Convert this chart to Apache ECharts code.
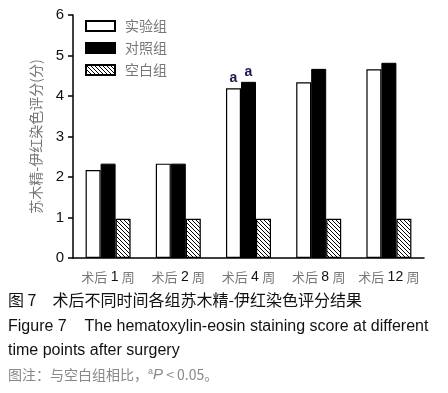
<!DOCTYPE html>
<html>
<head>
<meta charset="utf-8">
<script src="https://cdn.jsdelivr.net/npm/echarts@6/dist/echarts.min.js"></script>
<style>
  html, body { margin: 0; padding: 0; background: #fff; }
  #chart { width: 448px; height: 393px; }
</style>
</head>
<body>
<div id="chart"></div>
<script>
// data
const categories = ['术后 1 周', '术后 2 周', '术后 4 周', '术后 8 周', '术后 12 周'];
const experimental = [2.17, 2.33, 4.19, 4.34, 4.66];
const control = [2.33, 2.33, 4.35, 4.67, 4.82];
const blank = [0.97, 0.97, 0.97, 0.97, 0.97];
const sigIndex = [2]; // groups marked with "a"
const yTicks = [0, 1, 2, 3, 4, 5, 6];

const cjkFont = '"Noto Sans CJK SC", sans-serif';
const latinFont = '"Liberation Sans", sans-serif';

// diagonal hatch pattern for the blank group
const hatch = document.createElement('canvas');
hatch.width = 4;
hatch.height = 4;
const hc = hatch.getContext('2d');
hc.fillStyle = '#fff';
hc.fillRect(0, 0, 4, 4);
hc.strokeStyle = '#000';
hc.lineWidth = 1;
hc.beginPath();
hc.moveTo(-1, -1); hc.lineTo(5, 5);
hc.moveTo(-1, 3); hc.lineTo(1, 5);
hc.moveTo(3, -1); hc.lineTo(5, 1);
hc.stroke();

const withMarks = (arr) => arr.map((v, i) => sigIndex.includes(i)
  ? { value: v, label: { show: true, position: 'top', formatter: 'a', color: '#1a1a4a', fontSize: 14, fontWeight: 'bold', distance: 3, fontFamily: latinFont } }
  : v);

const chart = echarts.init(document.getElementById('chart'));

chart.setOption({
  animation: false,
  backgroundColor: '#fff',
  grid: { left: 73, right: 24, top: 15, bottom: 135 },
  legend: {
    left: 80,
    top: 14,
    orient: 'vertical',
    icon: 'rect',
    itemWidth: 29,
    itemHeight: 10,
    itemGap: 8,
    textStyle: { color: '#777', fontSize: 14, padding: [0, 0, 0, 5], fontFamily: cjkFont },
    data: ['实验组', '对照组', '空白组']
  },
  xAxis: {
    type: 'category',
    data: categories,
    axisLine: { lineStyle: { color: '#000', width: 1.5 } },
    axisTick: { show: false },
    axisLabel: {
      interval: 0,
      margin: 12,
      formatter: (v) => {
        const m = v.match(/^(\S+) (\d+) (\S+)$/);
        return '{c|' + m[1] + '} {n|' + m[2] + '} {c|' + m[3] + '}';
      },
      rich: {
        c: { color: '#777', fontSize: 13, fontFamily: cjkFont },
        n: { color: '#111', fontSize: 14, fontFamily: latinFont }
      }
    }
  },
  yAxis: {
    type: 'value',
    min: 0,
    max: 6,
    interval: 1,
    name: '苏木精-伊红染色评分(分)',
    nameLocation: 'middle',
    nameGap: 30,
    nameTextStyle: { color: '#777', fontSize: 14, fontFamily: cjkFont },
    axisLine: { show: true, lineStyle: { color: '#000', width: 1.5 } },
    axisTick: { show: true, length: 5, lineStyle: { color: '#000', width: 1.5 } },
    axisLabel: {
      color: '#111',
      fontSize: 15,
      margin: 9,
      fontFamily: latinFont,
      formatter: (v) => yTicks.includes(v) ? String(v) : ''
    },
    splitLine: { show: false }
  },
  series: [
    {
      name: '实验组',
      type: 'bar',
      data: withMarks(experimental),
      barWidth: 15,
      barGap: '0%',
      itemStyle: { color: '#fff', borderColor: '#000', borderWidth: 1.2 }
    },
    {
      name: '对照组',
      type: 'bar',
      data: withMarks(control),
      barWidth: 15,
      itemStyle: { color: '#000', borderColor: '#000', borderWidth: 1 }
    },
    {
      name: '空白组',
      type: 'bar',
      data: blank,
      barWidth: 15,
      itemStyle: { color: { image: hatch, repeat: 'repeat' }, borderColor: '#000', borderWidth: 1.2 }
    }
  ],
  graphic: [
    {
      type: 'text', left: 8, top: 292,
      style: { text: '图 7　术后不同时间各组苏木精-伊红染色评分结果', fill: '#111', fontSize: 16, fontFamily: cjkFont }
    },
    {
      type: 'text', left: 8, top: 319,
      style: { text: 'Figure 7    The hematoxylin-eosin staining score at different', fill: '#111', fontSize: 16, fontFamily: latinFont }
    },
    {
      type: 'text', left: 8, top: 343,
      style: { text: 'time points after surgery', fill: '#111', fontSize: 16, fontFamily: latinFont }
    },
    {
      type: 'text', left: 8, top: 367,
      style: {
        text: '{c|图注：与空白组相比，}{s|a}{i|P}{c| < 0.05。}',
        rich: {
          c: { fill: '#888', fontSize: 14, fontFamily: cjkFont },
          s: { fill: '#888', fontSize: 9, verticalAlign: 'top', padding: [0, 0, 6, 0], fontFamily: latinFont },
          i: { fill: '#888', fontSize: 15, fontStyle: 'italic', fontFamily: latinFont }
        }
      }
    }
  ]
});
</script>
</body>
</html>
